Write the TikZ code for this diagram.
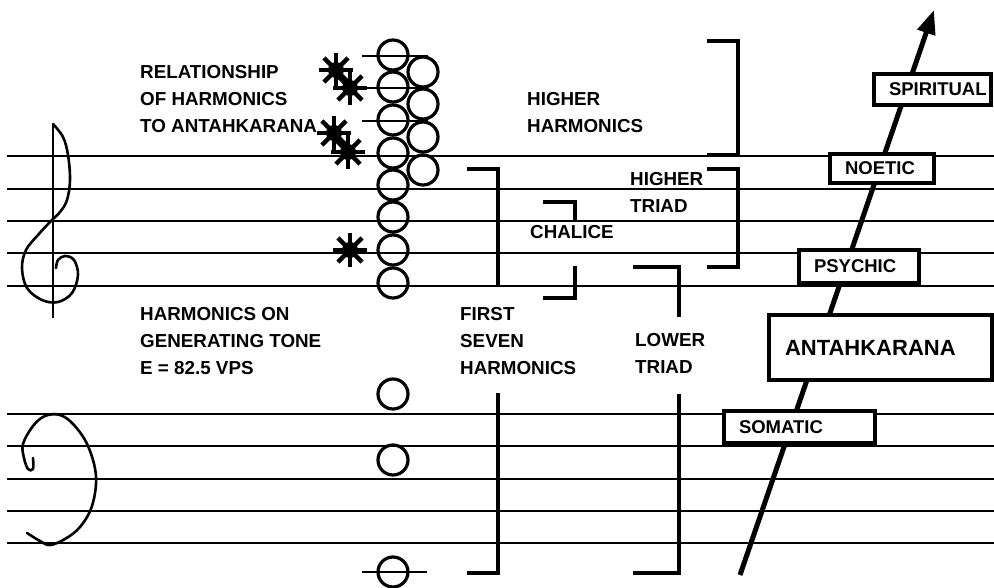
\documentclass[tikz,border=0pt]{standalone}
\usepackage{fontspec}
\setmainfont{Liberation Sans}
\usetikzlibrary{arrows.meta,positioning}

\tikzset{
  staff/.style={line width=2.8pt},
  bracketline/.style={line width=4.5pt},
  note/.style={line width=3.2pt},
  clefline/.style={line width=2.6pt, line cap=round, line join=round},
  lbl/.style={font=\bfseries\fontsize{18.8}{27}\selectfont, align=left, anchor=north west, inner sep=0pt},
  layerbox/.style={draw, line width=4pt, fill=white, inner xsep=0pt, inner ysep=0pt,
    align=left, font=\bfseries\fontsize{18.5}{22}\selectfont}
}

\begin{document}
\begin{tikzpicture}[x=1pt, y=-1pt]
  \useasboundingbox (0,0) rectangle (994,588);

  % Staves
  \foreach \y in {156,189,221,253,286} \draw[staff] (7,\y) -- (994,\y);
  \foreach \y in {414,446,479,511,543} \draw[staff] (7,\y) -- (994,\y);
  \foreach \y in {56,88,121} \draw[staff] (362,\y) -- (428,\y);
  \draw[staff] (362,572) -- (427,572);

  % Treble clef
  \draw[line width=2pt] (53,124) -- (53,318);
  \draw[clefline] plot[smooth, tension=0.6] coordinates {(53,124) (63,137) (68,155) (70,180) (67,200)
    (60,212) (50,222) (38,235) (26,250) (22,268) (27,288) (42,300) (58,302) (72,293) (78,275)
    (74,260) (65,256) (58,260) (56,268)};

  % Bass clef
  \draw[clefline] plot[smooth, tension=0.6] coordinates {(33,458) (33,469) (28,469) (24,458) (23,444)
    (33,426) (45,416) (60,415) (74,425) (88,446) (96,476) (92,506) (80,527) (65,539) (50,545)
    (40,541) (27,533)};

  % Harmonics
  \foreach \y in {55,87,120,153,185,217,250,283} \draw[note] (393,\y) circle (15);
  \foreach \y in {72,104,137,170} \draw[note] (423,\y) circle (15);
  \foreach \y in {394,460,572} \draw[note] (393,\y) circle (15);

  % Stars
  \foreach \sx/\sy in {336/70, 350/88, 334/133, 348/152, 350/250} {
    \fill (\sx,\sy) circle (8);
    \foreach \a in {0,45,...,315} \draw[line width=4.5pt] (\sx,\sy) -- ++(\a:17);
  }

  % Brackets
  \draw[bracketline] (707,41) -- (738,41) -- (738,155) -- (707,155);
  \draw[bracketline] (707,169) -- (738,169) -- (738,267) -- (707,267);
  \draw[bracketline] (467,169) -- (498,169) -- (498,286);
  \draw[bracketline] (498,393) -- (498,573) -- (467,573);
  \draw[bracketline] (543,202) -- (575,202) -- (575,221);
  \draw[bracketline] (575,266) -- (575,298) -- (543,298);
  \draw[bracketline] (633,267) -- (679,267) -- (679,317);
  \draw[bracketline] (679,394) -- (679,573) -- (633,573);

  % Labels
  \node[lbl] (relation) at (140,65) {RELATIONSHIP\\OF HARMONICS\\TO ANTAHKARANA};
  \node[lbl] (higherharm) at (527,92) {HIGHER\\HARMONICS};
  \node[lbl] (highertriad) at (630,172) {HIGHER\\TRIAD};
  \node[lbl] (chalice) at (530,225) {CHALICE};
  \node[lbl] (generating) at (140,307) {HARMONICS ON\\GENERATING TONE\\E = 82.5 VPS};
  \node[lbl] (firstseven) at (460,307) {FIRST\\SEVEN\\HARMONICS};
  \node[lbl] (lowertriad) at (635,333) {LOWER\\TRIAD};

  % Antahkarana arrow
  \coordinate (arrowtail) at (740,575);
  \coordinate (arrowtip) at (934,10);
  \draw[line width=5pt, -{Triangle[length=24pt,width=18pt]}] (arrowtail) -- (arrowtip);

  % Layers
  \node[layerbox, text width=117pt, minimum height=31pt] (spiritual) at (932.5,89.5) {\hspace*{15pt}SPIRITUAL};
  \node[layerbox, text width=104pt, minimum height=29pt] (noetic) at (882,168.5) {\hspace*{15pt}NOETIC};
  \node[layerbox, text width=120pt, minimum height=33pt] (psychic) at (859,266.5) {\hspace*{15pt}PSYCHIC};
  \node[layerbox, text width=223pt, minimum height=65pt, font=\bfseries\fontsize{22}{26}\selectfont] (antahkarana) at (880.5,347.5) {\hspace*{16pt}ANTAHKARANA};
  \node[layerbox, text width=151pt, minimum height=32pt] (somatic) at (799.5,427) {\hspace*{15pt}SOMATIC};
\end{tikzpicture}
\end{document}
